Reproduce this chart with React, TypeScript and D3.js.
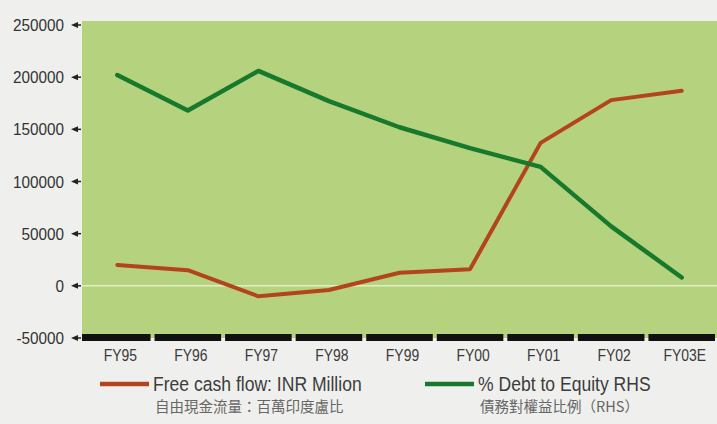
import React from 'react';
import * as d3 from 'd3';

const categories = ['FY95', 'FY96', 'FY97', 'FY98', 'FY99', 'FY00', 'FY01', 'FY02', 'FY03E'];
const freeCashFlow = [20000, 15000, -10000, -4000, 12500, 16000, 137000, 178000, 187000];
const debtToEquity = [202000, 168000, 206000, 177000, 152000, 132000, 114000, 57000, 8000];
const yTicks = [-50000, 0, 50000, 100000, 150000, 200000, 250000];
const seriesNames = ['Free cash flow: INR Million', '% Debt to Equity RHS'];
const seriesNamesZh = ['自由現金流量：百萬印度盧比', '債務對權益比例（RHS）'];

const W = 717;
const H = 424;
const SANS = "'Liberation Sans', Arial, sans-serif";

type NTextProps = {
  x: number;
  y: number;
  sx: number;
  size: number;
  anchor?: 'start' | 'middle' | 'end';
  fill: string;
  family?: string;
  children: React.ReactNode;
};

function NText({ x, y, sx, size, anchor = 'start', fill, family = SANS, children }: NTextProps) {
  return (
    <g transform={`translate(${x},${y}) scale(${sx},1)`}>
      <text x={0} y={0} textAnchor={anchor} fontFamily={family} fontSize={size} fill={fill}>
        {children}
      </text>
    </g>
  );
}

export default function App() {
  const x = d3.scaleBand<string>().domain(categories).range([82, 717]).padding(0);
  const y = d3.scaleLinear().domain([-50000, 250000]).range([338, 25]);
  const bw = x.bandwidth();
  const cx = (c: string) => (x(c) as number) + bw / 2;

  const line = d3
    .line<number>()
    .x((_, i) => cx(categories[i]))
    .y((d) => y(d));

  const colors = ['#b3441c', '#17792c'];

  return (
    <svg width={W} height={H} style={{ position: 'absolute', left: 0, top: 0 }}>
      <rect x={0} y={0} width={W} height={H} fill="#eff0ed" />
      {/* plot background */}
      <rect x={82} y={y(250000) - 4} width={717 - 82} height={y(-50000) - y(250000) + 4} fill="#b5d27f" />
      {/* zero line */}
      <line x1={82} x2={717} y1={y(0)} y2={y(0)} stroke="#e4eec4" strokeWidth={1.5} />
      {/* bottom black bar segments */}
      {categories.map((c, i) => (
        <rect
          key={c}
          x={(x(c) as number) + (i === 0 ? 0 : 2)}
          y={y(-50000) - 4}
          width={bw - (i === 0 ? 2 : 4)}
          height={7}
          fill="#111"
        />
      ))}
      {/* y ticks */}
      {yTicks.map((t) => (
        <g key={t}>
          <path d={`M71,${y(t)} L78,${y(t) - 3} L78,${y(t) + 3} Z`} fill="#222" />
          <line x1={78} x2={81} y1={y(t)} y2={y(t)} stroke="#222" strokeWidth={1.5} />
          <NText x={64} y={y(t) + 6} sx={0.9} size={17} anchor="end" fill="#333">
            {t}
          </NText>
        </g>
      ))}
      {/* x labels */}
      {categories.map((c) => (
        <NText key={c} x={cx(c) + 3} y={361} sx={0.82} size={17} anchor="middle" fill="#3a3a3a">
          {c}
        </NText>
      ))}
      {/* series lines */}
      <path d={line(freeCashFlow) || ''} fill="none" stroke={colors[0]} strokeWidth={4} strokeLinejoin="round" strokeLinecap="round" />
      <path d={line(debtToEquity) || ''} fill="none" stroke={colors[1]} strokeWidth={4.5} strokeLinejoin="round" strokeLinecap="round" />
      {/* legend */}
      {[0, 1].map((i) => {
        const lx = i === 0 ? 100 : 425;
        return (
          <g key={i}>
            <line x1={lx} x2={lx + 49} y1={384} y2={384} stroke={colors[i]} strokeWidth={4.5} />
            <NText x={lx + 53} y={391} sx={0.9} size={19.5} fill="#3c3c3c">
              {seriesNames[i]}
            </NText>
            <text x={lx + 55} y={412} fontFamily="'Noto Sans CJK TC', sans-serif" fontSize={14.5} fill="#666">
              {seriesNamesZh[i]}
            </text>
          </g>
        );
      })}
    </svg>
  );
}
